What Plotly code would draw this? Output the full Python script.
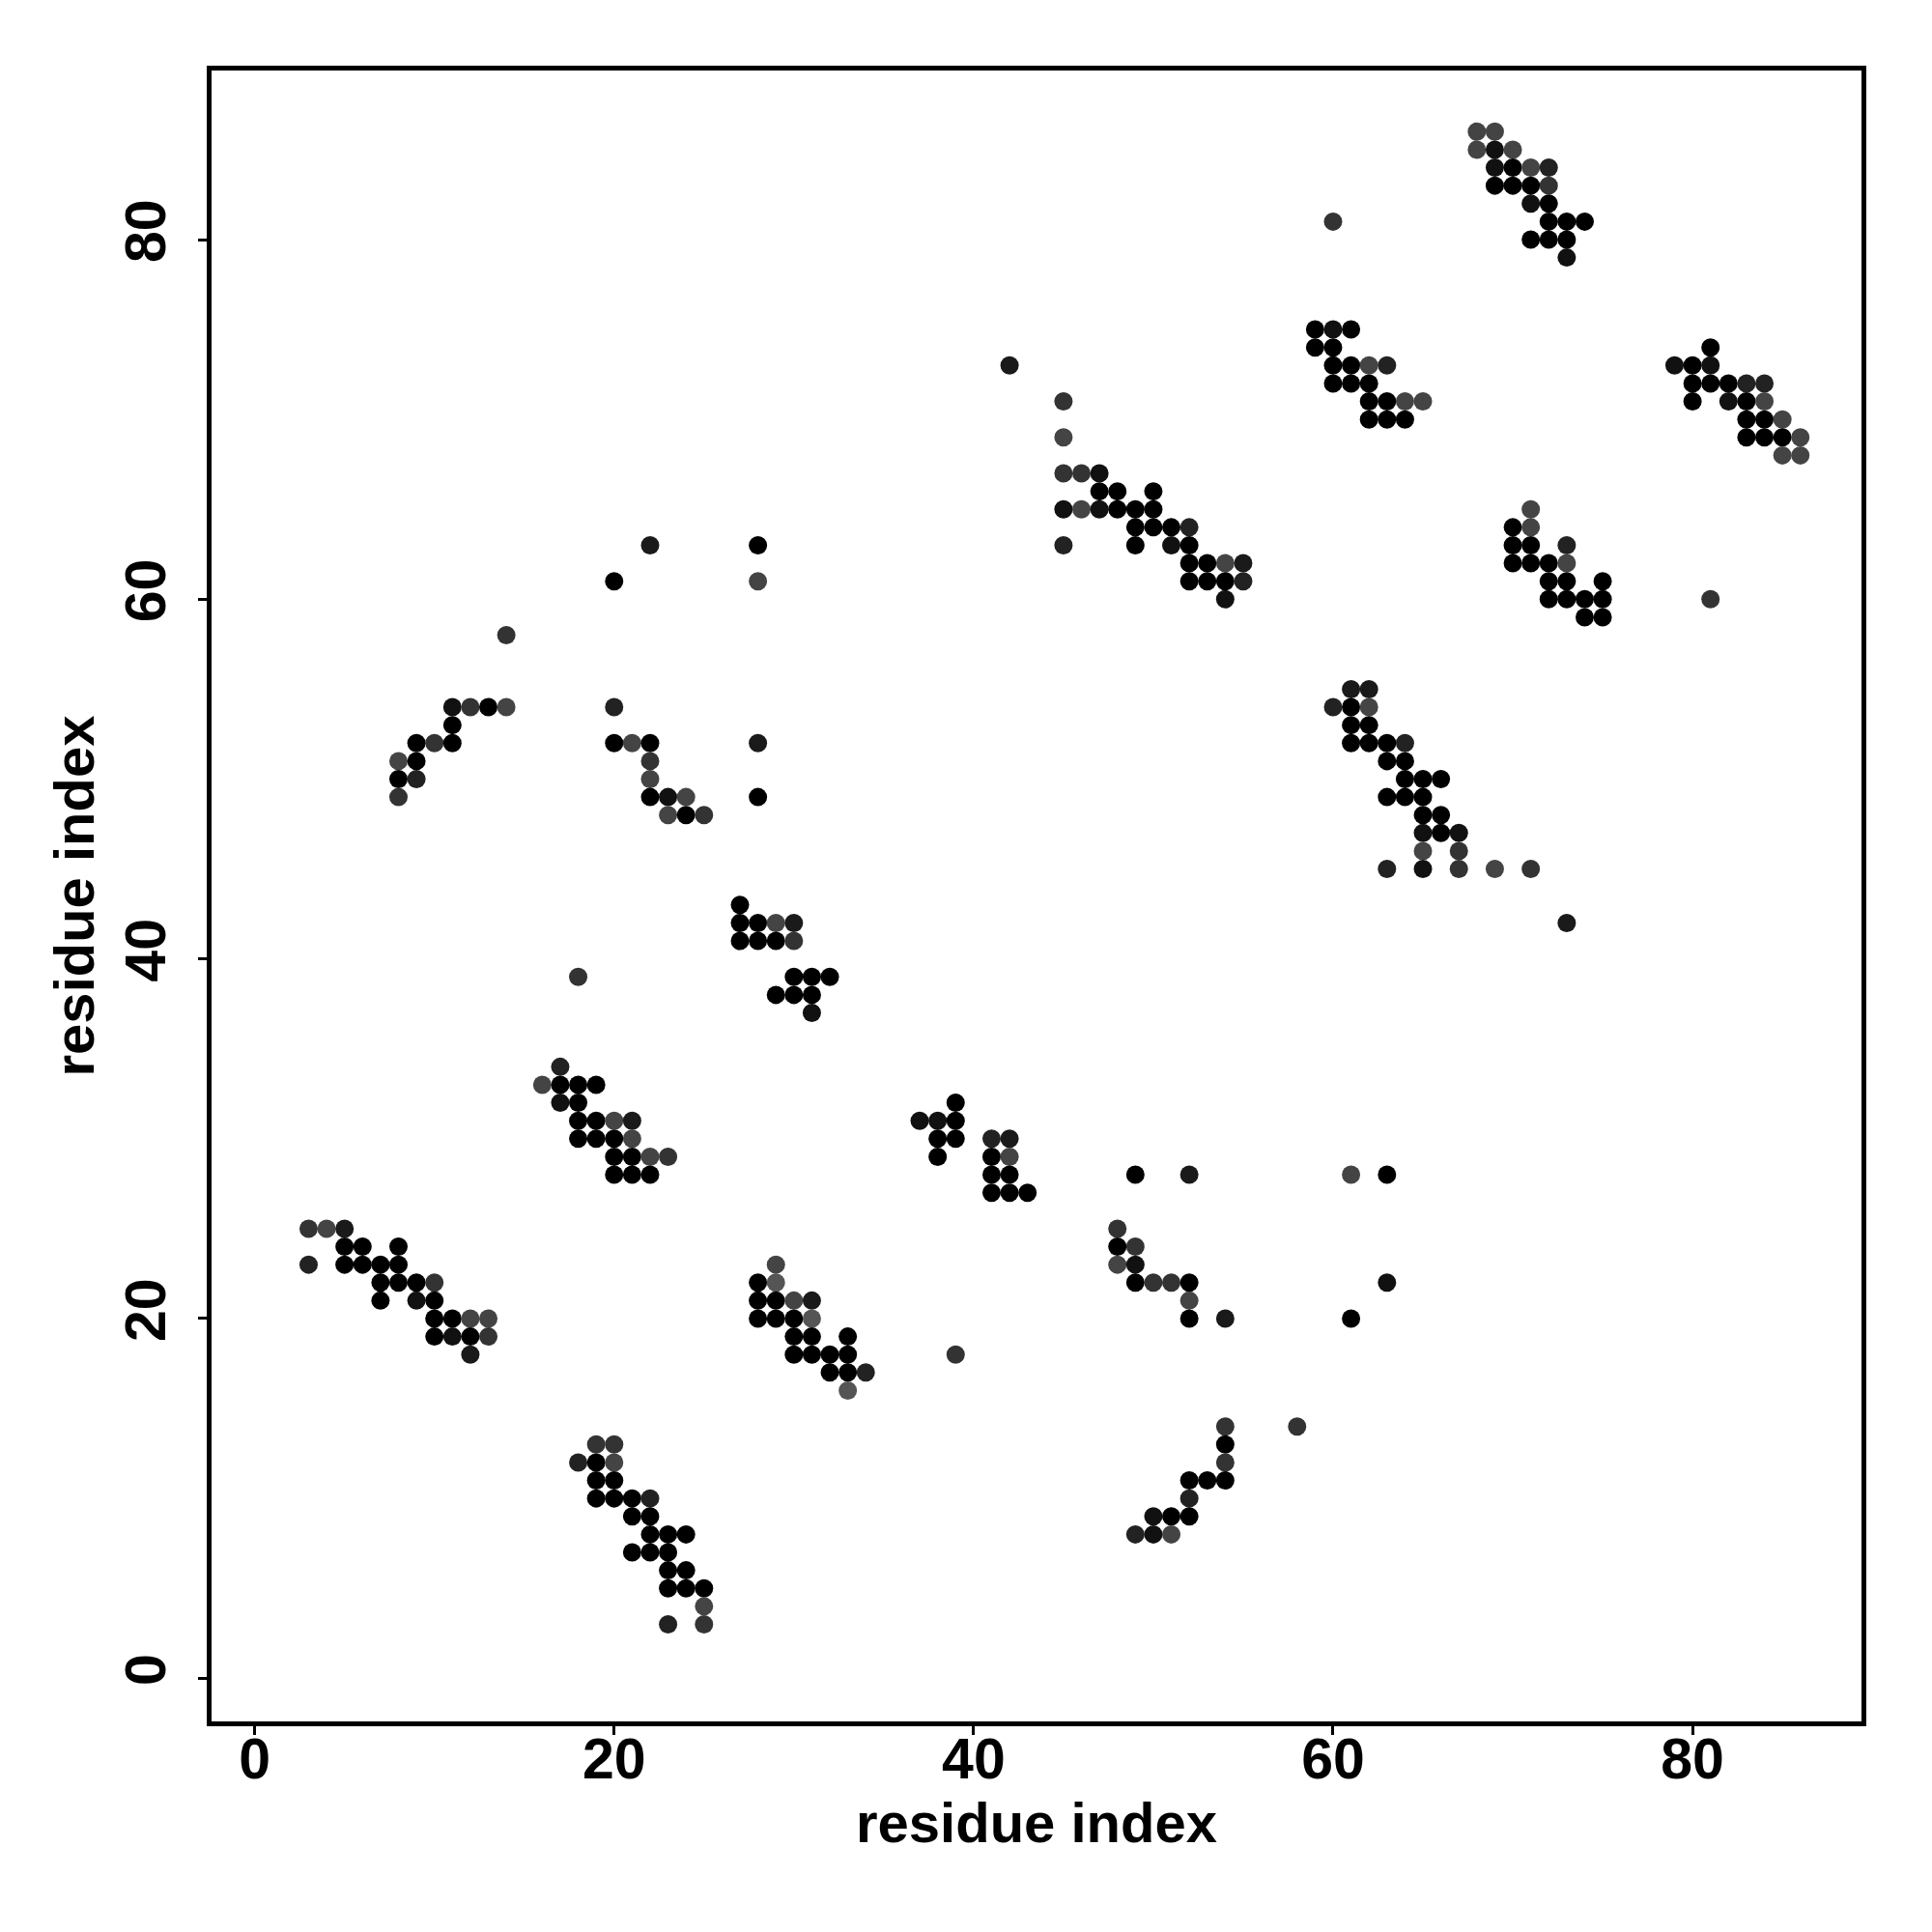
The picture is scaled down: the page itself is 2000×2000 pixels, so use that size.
import plotly.graph_objects as go

# Contact map: residue i (x), residue j (y), predicted confidence (darkness)
res_i = [
    3, 4, 5, 5, 6, 8, 3, 5, 6, 7, 8, 7, 8, 9, 10, 7, 9, 10, 10, 11, 12, 13, 10, 11, 12, 13, 12,
    19, 20, 18, 19, 20, 19, 20, 19, 20, 21, 22, 21, 22, 22, 23, 24, 21, 22, 23, 23, 24, 23, 24, 25, 25, 23, 25,
    29, 28, 29, 28, 29, 30, 31, 28, 29, 30, 31, 30, 31, 33, 30, 31, 32, 33, 32, 33, 34, 33,
    39,
    48, 48, 49, 48, 49, 49, 50, 51, 52, 52, 52, 54,
    49, 52, 61, 63, 61, 63,
    54, 54, 54, 52, 53, 54, 52, 50, 51, 52, 49, 50, 51,
    58,
    17, 16, 17, 18, 19, 17, 18, 18, 19, 20, 21, 18, 19, 20, 21, 20, 21, 22, 23, 20, 21, 22,
    18,
    39, 37, 38, 39, 38, 39, 38, 41, 42, 41, 42, 41, 42, 41, 42, 43,
    27, 27, 28, 29, 30, 27, 28, 29, 30, 30, 31, 32, 29, 30, 31, 31,
    14, 11, 12, 13, 14, 11, 9, 10, 11, 8, 9, 8, 9, 8,
    20, 22, 28, 28, 20, 20, 21, 22, 22, 22, 22, 23, 24, 23, 24, 25, 28, 28,
    42, 45, 45, 45, 46, 47, 47, 48, 50, 45, 46, 47, 48, 49, 50, 49, 50, 51, 52, 45, 49, 51, 52,
    52, 53, 54, 55, 52, 53, 54, 55, 54,
    60, 59, 60, 61, 59, 60, 60, 61, 62, 63, 60, 61, 62, 62, 63, 64, 65, 62, 63, 64,
    61, 62, 60, 61, 62, 61, 62, 61, 62, 63, 64, 63, 64, 64, 65, 66, 63, 64, 65, 65, 66, 65, 66, 67,
    65, 67, 63, 65, 67, 69, 71, 73,
    68, 69, 68, 69, 70, 69, 70, 71, 72, 69, 70, 71, 72, 71, 72, 72, 73, 74, 71, 72, 73, 73,
    81, 79, 80, 81, 80, 81, 82, 83, 84, 80, 82, 83, 84, 83, 84, 85, 83, 84, 85, 86, 85, 86,
    71, 70, 71, 70, 71, 73, 70, 71, 72, 73, 72, 73, 75, 72, 73, 74, 75, 74, 75, 81,
]
res_j = [
    25, 25, 25, 24, 24, 24, 23, 23, 23, 23, 23, 22, 22, 22, 22, 21, 21, 21, 20, 20, 20, 20, 19, 19, 19, 19, 18,
    13, 13, 12, 12, 12, 11, 11, 10, 10, 10, 10, 9, 9, 8, 8, 8, 7, 7, 7, 6, 6, 5, 5, 5, 4, 3, 3,
    23, 22, 22, 21, 21, 21, 21, 20, 20, 20, 20, 19, 19, 19, 18, 18, 18, 18, 17, 17, 17, 16,
    18,
    25, 24, 24, 23, 23, 22, 22, 22, 22, 21, 20, 20,
    28, 28, 28, 28, 20, 22,
    14, 13, 12, 11, 11, 11, 10, 9, 9, 9, 8, 8, 8,
    14,
    34, 33, 33, 33, 33, 32, 32, 31, 31, 31, 31, 30, 30, 30, 30, 29, 29, 29, 29, 28, 28, 28,
    39,
    32, 31, 31, 31, 30, 30, 29, 30, 30, 29, 29, 28, 28, 27, 27, 27,
    43, 42, 42, 42, 42, 41, 41, 41, 41, 39, 39, 39, 38, 38, 38, 37,
    58, 54, 54, 54, 54, 53, 52, 52, 52, 51, 51, 50, 50, 49,
    61, 63, 63, 61, 54, 52, 52, 52, 51, 50, 49, 49, 49, 48, 48, 48, 52, 49,
    73, 71, 69, 67, 67, 67, 66, 66, 66, 65, 65, 65, 65, 65, 65, 64, 64, 64, 64, 63, 63, 63, 63,
    62, 62, 62, 62, 61, 61, 61, 61, 60,
    81, 75, 75, 75, 74, 74, 73, 73, 73, 73, 72, 72, 72, 71, 71, 71, 71, 70, 70, 70,
    55, 55, 54, 54, 54, 53, 53, 52, 52, 52, 52, 51, 51, 50, 50, 50, 49, 49, 49, 48, 48, 47, 47, 47,
    46, 46, 45, 45, 45, 45, 45, 42,
    86, 86, 85, 85, 85, 84, 84, 84, 84, 83, 83, 83, 83, 82, 82, 81, 81, 81, 80, 80, 80, 79,
    74, 73, 73, 73, 72, 72, 72, 72, 72, 71, 71, 71, 71, 70, 70, 70, 69, 69, 69, 69, 68, 68,
    65, 64, 64, 63, 63, 63, 62, 62, 62, 62, 61, 61, 61, 60, 60, 60, 60, 59, 59, 60,
]
conf = [
    .7, .6, .85, 1, 1, 1, .8, 1, 1, 1, 1, 1, 1, 1, .7, 1, .9, 1, 1, 1, .6, .6, 1, .9, 1, .7, .85,
    .7, .7, .8, 1, .6, 1, 1, 1, 1, 1, .8, 1, 1, 1, 1, 1, 1, 1, 1, 1, 1, 1, 1, 1, .6, .8, .7,
    .6, 1, .5, 1, 1, .6, .85, 1, 1, 1, .5, 1, 1, 1, 1, 1, 1, 1, 1, 1, .8, .5,
    .7,
    .7, 1, .7, .6, .9, 1, .7, .7, 1, .6, 1, .85,
    1, .85, .6, 1, 1, .9,
    .7, 1, .7, 1, 1, 1, .8, .9, 1, 1, .8, .9, .6,
    .7,
    .8, .6, 1, 1, 1, .9, 1, 1, 1, .6, .85, 1, 1, 1, .6, 1, 1, .6, .7, 1, 1, 1,
    .7,
    1, .9, .9, 1, 1, 1, 1, .8, .85, 1, .6, 1, 1, 1, 1, 1,
    1, 1, 1, .6, .85, 1, 1, 1, .7, 1, 1, 1, 1, 1, 1, .9,
    .7, .9, .7, 1, .6, 1, 1, .7, 1, .6, 1, 1, .8, .7,
    1, .85, 1, .6, .8, 1, .6, 1, .7, .6, 1, .9, .6, .6, 1, .7, .85, 1,
    .85, .7, .6, .7, .7, .9, 1, 1, 1, .9, .6, .9, 1, 1, 1, 1, 1, 1, .8, .8, 1, .9, 1,
    1, 1, .6, .85, 1, 1, 1, .8, .9,
    .7, 1, .9, 1, 1, 1, 1, 1, .6, .8, 1, 1, 1, 1, 1, .6, .6, 1, 1, 1,
    .85, .85, .8, 1, .6, 1, 1, 1, 1, 1, .8, 1, 1, 1, 1, 1, 1, 1, 1, 1, 1, .9, 1, .9,
    .6, .7, .8, .9, .7, .6, .7, .85,
    .6, .6, .6, .9, .6, .9, 1, .6, .8, 1, 1, 1, .7, .9, 1, 1, 1, 1, 1, 1, 1, .9,
    1, .9, 1, .9, 1, 1, 1, .8, .8, 1, .9, 1, .6, 1, 1, .6, 1, 1, 1, .6, .6, .6,
    .6, 1, .6, 1, 1, .8, 1, 1, 1, .6, 1, 1, 1, 1, 1, 1, 1, 1, 1, .7,
]

tick_vals = [0, 20, 40, 60, 80]
axis_title = "residue index"

FONT = "Liberation Sans, Arial, sans-serif"

fig = go.Figure(
    go.Scatter(
        x=res_i,
        y=res_j,
        mode="markers",
        marker=dict(
            size=19,
            color=conf,
            colorscale=[[0, "rgb(170,170,170)"], [1, "rgb(0,0,0)"]],
            cmin=0,
            cmax=1,
            line=dict(width=0),
        ),
        showlegend=False,
        hoverinfo="x+y",
    )
)

axis_common = dict(
    tickvals=tick_vals,
    ticktext=[f"<b>{v}</b>" for v in tick_vals],
    ticks="outside",
    ticklen=9,
    tickwidth=3,
    tickcolor="black",
    showline=True,
    linewidth=5,
    linecolor="black",
    mirror=True,
    showgrid=False,
    zeroline=False,
    tickfont=dict(family=FONT, size=59, color="black"),
)

fig.update_layout(
    width=2000,
    height=2000,
    margin=dict(l=211, r=81, t=65, b=226),
    paper_bgcolor="white",
    plot_bgcolor="white",
    xaxis=dict(
        range=[-2.4, 89.4],
        ticklabelstandoff=-26,
        title=dict(text=f"<b>{axis_title}</b>", font=dict(family=FONT, size=58, color="black"), standoff=14),
        **axis_common,
    ),
    yaxis=dict(
        range=[-2.4, 89.4],
        tickangle=-90,
        ticklabelstandoff=10,
        title=dict(text=f"<b>{axis_title}</b>", font=dict(family=FONT, size=58, color="black"), standoff=4),
        **axis_common,
    ),
)

fig.write_html("out.html")
